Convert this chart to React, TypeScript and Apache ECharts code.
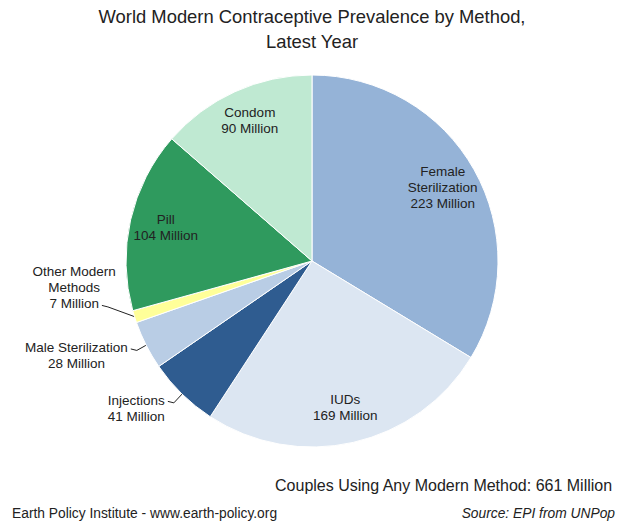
import React, { useEffect, useRef } from "react";
import * as echarts from "echarts";

const methods = [
  "Female\nSterilization",
  "IUDs",
  "Injections",
  "Male Sterilization",
  "Other Modern\nMethods",
  "Pill",
  "Condom",
];
const values = [223, 169, 41, 28, 7, 104, 90];
const colors = ["#95b3d7", "#dce6f2", "#2f5c90", "#b9cde5", "#ffff99", "#2f9a5e", "#bfe9d2"];
const outsideLabels = [false, false, true, true, true, false, false];
const labelShiftY = [0, 0, 10, 8, -31, 0, -4];
// which text line of an outside label the leader line points at: "first" or "last"
const leaderLine = ["", "", "first", "first", "last", "", ""];
const titleText = "World Modern Contraceptive Prevalence by Method,\nLatest Year";
const totalText = "Couples Using Any Modern Method: 661 Million";
const creditText = "Earth Policy Institute - www.earth-policy.org";
const sourceText = "Source: EPI from UNPop";

const FONT = "'Liberation Sans', Arial, sans-serif";
const LABEL_SIZE = 13.5;
const LABEL_LH = 16;

function measure(text: string): number {
  const c = document.createElement("canvas").getContext("2d");
  if (!c) return text.length * 7;
  c.font = `${LABEL_SIZE}px ${FONT}`;
  return c.measureText(text).width;
}

export default function App() {
  const ref = useRef<HTMLDivElement>(null);
  useEffect(() => {
    if (!ref.current) return;
    const chart = echarts.init(ref.current, undefined, { renderer: "svg" });
    const cx = 312;
    const cy = 261;
    const R = 186;

    const labelLines = (i: number) => methods[i].split("\n").concat(values[i] + " Million");

    const baseData = methods.map((name, i) => {
      const isOut = outsideLabels[i];
      return {
        name,
        value: values[i],
        itemStyle: { color: colors[i] },
        label: isOut
          ? {
              show: true,
              position: "outside",
              formatter: (p: any) =>
                labelLines(p.dataIndex)
                  .map((s: string) => `{c|${s}}`)
                  .join("\n"),
              rich: {
                c: {
                  align: "center",
                  fontFamily: FONT,
                  fontSize: LABEL_SIZE,
                  lineHeight: LABEL_LH,
                  color: "#222",
                },
              },
            }
          : { show: false },
        labelLine: { show: isOut },
      };
    });

    const labelData = methods.map((name, i) => ({
      name,
      value: values[i],
      label: { show: !outsideLabels[i] },
    }));

    const outsideLayout = (p: any) => {
      const i = p.dataIndex;
      const dy = labelShiftY[i] || 0;
      const res: any = { dy, hideOverlap: false };
      const pts = p.labelLinePoints;
      const r = p.labelRect;
      if (outsideLabels[i] && pts && pts.length && r) {
        const start = pts[0];
        const lines = labelLines(i);
        const useLast = leaderLine[i] === "last";
        const lineText = useLast ? lines[lines.length - 1] : lines[0];
        const centerX = r.x + r.width / 2;
        const lineRight = centerX + measure(lineText) / 2;
        const targetY = useLast
          ? r.y + dy + r.height - LABEL_LH / 2 + 2
          : r.y + dy + LABEL_LH / 2 + 1;
        res.labelLinePoints = [
          [start[0], start[1]],
          [lineRight + 9, targetY + 1.5],
          [lineRight + 3, targetY],
        ];
      }
      return res;
    };

    chart.setOption({
      animation: false,
      backgroundColor: "#ffffff",
      title: [
        {
          text: titleText,
          left: 312,
          top: 4,
          padding: 0,
          textAlign: "center",
          textStyle: {
            fontFamily: FONT,
            fontSize: 18.4,
            fontWeight: "normal",
            color: "#222",
            lineHeight: 25,
            align: "center",
          },
        },
        {
          text: totalText,
          right: 17,
          top: 476,
          padding: 0,
          textStyle: {
            fontFamily: FONT,
            fontSize: 16,
            lineHeight: 18,
            fontWeight: "normal",
            color: "#222",
          },
        },
        {
          text: creditText,
          left: 12,
          top: 505,
          padding: 0,
          textStyle: {
            fontFamily: FONT,
            fontSize: 13.8,
            lineHeight: 16,
            fontWeight: "normal",
            color: "#222",
          },
        },
        {
          text: sourceText,
          right: 15,
          top: 505,
          padding: 0,
          textStyle: {
            fontFamily: FONT,
            fontSize: 13.8,
            lineHeight: 16,
            fontStyle: "italic",
            fontWeight: "normal",
            color: "#222",
          },
        },
      ],
      series: [
        {
          type: "pie",
          center: [cx, cy],
          radius: [0, R],
          startAngle: 90,
          clockwise: true,
          avoidLabelOverlap: false,
          itemStyle: { borderColor: "#ffffff", borderWidth: 1 },
          label: {
            fontFamily: FONT,
            fontSize: LABEL_SIZE,
            color: "#222",
            lineHeight: LABEL_LH,
          },
          labelLine: {
            length: 6,
            length2: 8,
            lineStyle: { color: "#222", width: 1 },
          },
          labelLayout: outsideLayout,
          emphasis: { disabled: true },
          data: baseData,
        },
        {
          type: "pie",
          center: [cx, cy],
          radius: [108, R],
          startAngle: 90,
          clockwise: true,
          silent: true,
          itemStyle: { color: "rgba(0,0,0,0)", borderWidth: 0 },
          label: {
            position: "inside",
            formatter: "{b}\n{c} Million",
            fontFamily: FONT,
            fontSize: LABEL_SIZE,
            color: "#222",
            lineHeight: LABEL_LH,
            align: "center",
          },
          labelLine: { show: false },
          labelLayout: (p: any) => ({ dy: labelShiftY[p.dataIndex] || 0, hideOverlap: false }),
          emphasis: { disabled: true },
          data: labelData,
        },
      ],
    });
    return () => chart.dispose();
  }, []);
  return (
    <div
      ref={ref}
      style={{ position: "absolute", left: 0, top: 0, width: 630, height: 531 }}
    />
  );
}
